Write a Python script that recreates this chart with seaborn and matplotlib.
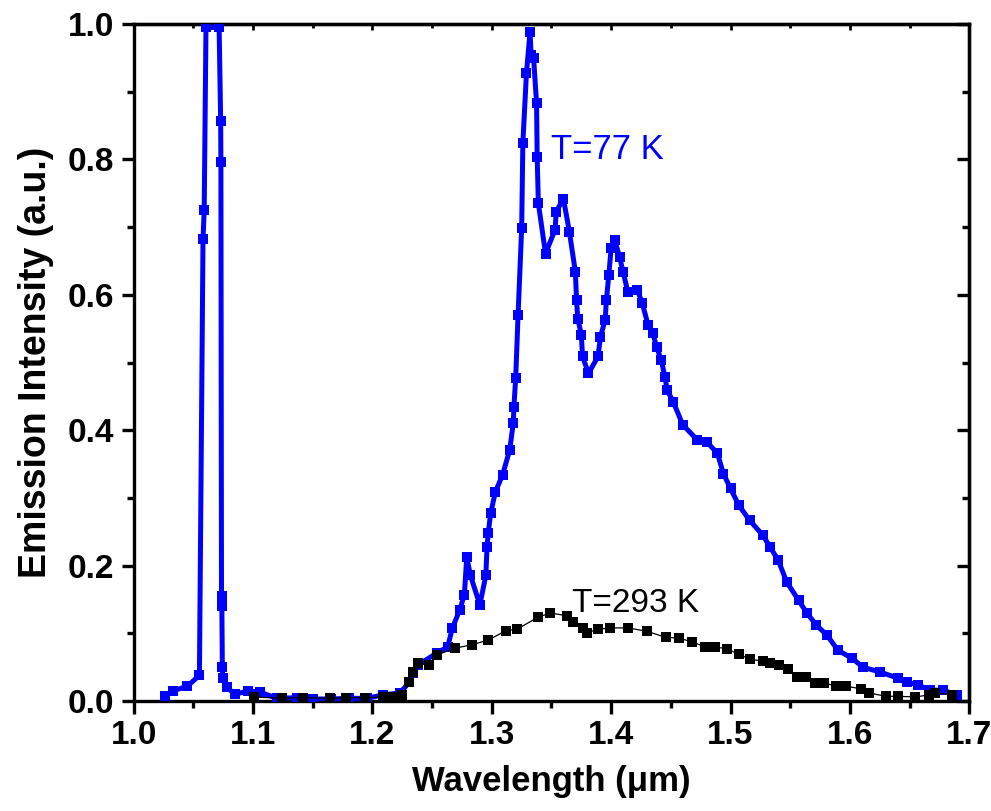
import matplotlib
matplotlib.use("Agg")
import matplotlib.pyplot as plt
import seaborn as sns
import pandas as pd
from matplotlib.ticker import MultipleLocator

# T = 77 K series
x77 = [1.026, 1.033, 1.045, 1.055, 1.058, 1.059, 1.0605, 1.0715, 1.0728, 1.073,
       1.0735, 1.0738, 1.0742, 1.0745, 1.078, 1.085, 1.096, 1.106, 1.120, 1.137,
       1.150, 1.165, 1.180, 1.195, 1.209, 1.223, 1.231, 1.234, 1.238, 1.254,
       1.263, 1.267, 1.273, 1.277, 1.279, 1.282, 1.290, 1.295, 1.296, 1.297,
       1.299, 1.303, 1.309, 1.315, 1.318, 1.3185, 1.320, 1.322, 1.325, 1.326,
       1.329, 1.332, 1.333, 1.335, 1.3375, 1.338, 1.339, 1.345, 1.353, 1.354,
       1.360, 1.365, 1.370, 1.371, 1.372, 1.375, 1.376, 1.381, 1.389, 1.391,
       1.395, 1.396, 1.398, 1.400, 1.403, 1.407, 1.410, 1.414, 1.422, 1.426,
       1.431, 1.435, 1.438, 1.442, 1.445, 1.447, 1.452, 1.460, 1.472, 1.480,
       1.489, 1.494, 1.500, 1.507, 1.516, 1.527, 1.533, 1.540, 1.547, 1.557,
       1.564, 1.572, 1.581, 1.590, 1.602, 1.611, 1.625, 1.640, 1.648, 1.657,
       1.667, 1.678, 1.690]
y77 = [0.007, 0.015, 0.022, 0.038, 0.682, 0.725, 0.995, 0.995, 0.857, 0.796,
       0.155, 0.140, 0.050, 0.034, 0.020, 0.010, 0.015, 0.013, 0.004, 0.005,
       0.003, 0.003, 0.004, 0.004, 0.009, 0.012, 0.028, 0.041, 0.053, 0.071,
       0.080, 0.108, 0.134, 0.157, 0.213, 0.186, 0.142, 0.186, 0.228, 0.248,
       0.277, 0.309, 0.334, 0.371, 0.411, 0.434, 0.477, 0.570, 0.698, 0.824,
       0.927, 0.988, 0.954, 0.950, 0.883, 0.804, 0.735, 0.661, 0.696, 0.723,
       0.742, 0.693, 0.634, 0.592, 0.565, 0.541, 0.509, 0.484, 0.509, 0.538,
       0.563, 0.592, 0.629, 0.669, 0.681, 0.656, 0.634, 0.604, 0.607, 0.588,
       0.555, 0.543, 0.523, 0.504, 0.479, 0.459, 0.442, 0.408, 0.386, 0.383,
       0.366, 0.336, 0.314, 0.289, 0.267, 0.245, 0.228, 0.208, 0.176, 0.149,
       0.130, 0.112, 0.097, 0.075, 0.063, 0.050, 0.043, 0.034, 0.028, 0.024,
       0.016, 0.016, 0.009]

# T = 293 K series
x293 = [1.101, 1.124, 1.142, 1.164, 1.178, 1.194, 1.209, 1.216, 1.225, 1.231,
        1.234, 1.238, 1.247, 1.254, 1.269, 1.283, 1.297, 1.312, 1.321, 1.339,
        1.349, 1.363, 1.368, 1.376, 1.380, 1.389, 1.399, 1.414, 1.430, 1.446,
        1.457, 1.468, 1.479, 1.487, 1.497, 1.507, 1.516, 1.527, 1.533, 1.541,
        1.548, 1.556, 1.563, 1.571, 1.578, 1.588, 1.597, 1.609, 1.616, 1.630,
        1.640, 1.655, 1.666, 1.671, 1.686]
y293 = [0.006, 0.004, 0.005, 0.004, 0.005, 0.005, 0.006, 0.006, 0.009, 0.028,
        0.043, 0.056, 0.053, 0.068, 0.078, 0.083, 0.090, 0.104, 0.106, 0.124,
        0.130, 0.126, 0.116, 0.108, 0.101, 0.106, 0.108, 0.108, 0.103, 0.094,
        0.093, 0.087, 0.080, 0.080, 0.077, 0.069, 0.062, 0.059, 0.056, 0.053,
        0.047, 0.035, 0.035, 0.027, 0.027, 0.022, 0.022, 0.018, 0.012, 0.007,
        0.007, 0.006, 0.009, 0.012, 0.009]

labels = ["T=77 K", "T=293 K"]
xticks = [1.0, 1.1, 1.2, 1.3, 1.4, 1.5, 1.6, 1.7]
yticks = [0.0, 0.2, 0.4, 0.6, 0.8, 1.0]

sns.set_style("white")
plt.rcParams["font.family"] = ["Liberation Sans", "DejaVu Sans"]
plt.rcParams["text.color"] = "black"
plt.rcParams["axes.labelcolor"] = "black"
plt.rcParams["xtick.color"] = "black"
plt.rcParams["ytick.color"] = "black"

df77 = pd.DataFrame({"x": x77, "y": y77})
df293 = pd.DataFrame({"x": x293, "y": y293})

fig = plt.figure(figsize=(9.91, 8.11), dpi=100)
ax = fig.add_axes([0.135, 0.1356, 0.843, 0.8348])

sns.lineplot(data=df77, x="x", y="y", ax=ax, estimator=None, sort=False,
             color="#0000FF", linewidth=3.6, marker="s", markersize=6.5,
             markeredgewidth=0, markerfacecolor="#0000FF", zorder=3)
sns.lineplot(data=df293, x="x", y="y", ax=ax, estimator=None, sort=False,
             color="black", linewidth=0.9, marker="s", markersize=6.5,
             markeredgewidth=0, markerfacecolor="black", zorder=4)

ax.set_xlim(1.0, 1.7)
ax.set_ylim(0.0, 1.0)
ax.set_xticks(xticks)
ax.set_xticklabels([f"{v:.1f}" for v in xticks])
ax.set_yticks(yticks)
ax.set_yticklabels([f"{v:.1f}" for v in yticks])
ax.xaxis.set_minor_locator(MultipleLocator(0.05))
ax.yaxis.set_minor_locator(MultipleLocator(0.1))

for s in ax.spines.values():
    s.set_linewidth(2.4)
    s.set_color("black")

ax.tick_params(axis="both", which="major", direction="out", length=9, width=2.4,
               labelsize=24, pad=5, bottom=True, left=True, colors="black")
ax.tick_params(axis="both", which="minor", direction="out", length=5, width=2.4,
               bottom=True, left=True, colors="black")
for lab in ax.get_xticklabels() + ax.get_yticklabels():
    lab.set_fontweight("bold")

# inward ticks on top/right via secondary axes
top = ax.secondary_xaxis("top")
top.set_xticks(xticks)
top.xaxis.set_minor_locator(MultipleLocator(0.05))
top.tick_params(which="major", direction="in", length=4, width=2.0, labeltop=False)
top.tick_params(which="minor", direction="in", length=3, width=2.0)
top.spines["top"].set_linewidth(2.4)
right = ax.secondary_yaxis("right")
right.set_yticks(yticks)
right.yaxis.set_minor_locator(MultipleLocator(0.1))
right.tick_params(which="major", direction="in", length=9, width=2.4, labelright=False)
right.tick_params(which="minor", direction="in", length=5, width=2.4)
right.spines["right"].set_linewidth(2.4)
ax.tick_params(which="both", top=False, right=False)

ax.set_xlabel("Wavelength (μm)", fontsize=25, fontweight="bold", labelpad=10)
ax.set_ylabel("Emission Intensity (a.u.)", fontsize=27, fontweight="bold", labelpad=10)

ax.text(1.350, 0.80, labels[0], color="#0000FF", fontsize=25, ha="left", va="baseline")
ax.text(1.367, 0.131, labels[1], color="black", fontsize=24, ha="left", va="baseline")

fig.savefig("out.png", dpi=100)
